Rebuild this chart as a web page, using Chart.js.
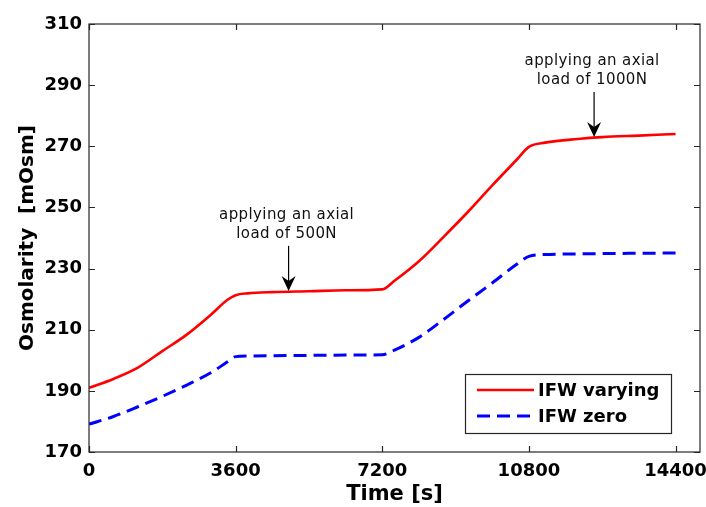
<!DOCTYPE html>
<html>
<head>
<meta charset="utf-8">
<script src="https://cdn.jsdelivr.net/npm/chart.js@4/dist/chart.umd.min.js"></script>
<style>
  html, body { margin: 0; padding: 0; background: #fff; }
  #wrap { width: 706px; height: 507px; position: relative; }
</style>
</head>
<body>
<div id="wrap"><canvas id="osmo-chart"></canvas></div>
<script>
"use strict";

// time in seconds
const timeSec = [0, 600, 1200, 1800, 2400, 3000, 3400, 3600, 3900, 4500, 5400, 6300, 7200,
  7500, 8100, 8700, 9300, 9900, 10500, 10800, 11200, 12000, 12600, 13500, 14400];
const ifwVarying = [191.0, 193.9, 197.6, 203.0, 208.4, 215.0, 219.8, 221.3, 221.9, 222.3, 222.6, 222.9, 223.2,
  226.0, 232.4, 240.3, 248.5, 257.2, 265.6, 269.8, 271.2, 272.4, 273.0, 273.5, 274.0];
const ifwZero = [179.1, 181.6, 184.8, 188.2, 191.9, 196.0, 199.5, 201.2, 201.4, 201.5, 201.6, 201.7, 201.8,
  203.3, 207.5, 213.3, 219.4, 225.3, 231.4, 234.0, 234.6, 234.8, 234.9, 235.0, 235.1];

const xTicks = [0, 3600, 7200, 10800, 14400];
const yTicks = [170, 190, 210, 230, 250, 270, 290, 310];

const notes = [
  { t: 4900, v: 222.7, lines: ['applying an axial', 'load of 500N'] },
  { t: 12400, v: 273.0, lines: ['applying an axial', 'load of 1000N'] }
];

const FRAME = '#262626';

// MATLAB-like box with inward ticks, arrows and an inside legend
const matlabPlugin = {
  id: 'matlab',
  afterDraw(chart) {
    const { ctx, chartArea: a, scales: { x, y } } = chart;
    ctx.save();
    ctx.strokeStyle = FRAME;
    ctx.lineWidth = 1.2;
    ctx.strokeRect(a.left, a.top, a.right - a.left, a.bottom - a.top);
    ctx.beginPath();
    xTicks.forEach(v => {
      const px = Math.round(x.getPixelForValue(v)) + 0.5;
      ctx.moveTo(px, a.bottom); ctx.lineTo(px, a.bottom - 6);
      ctx.moveTo(px, a.top); ctx.lineTo(px, a.top + 6);
    });
    yTicks.forEach(v => {
      const py = Math.round(y.getPixelForValue(v)) + 0.5;
      ctx.moveTo(a.left, py); ctx.lineTo(a.left + 6, py);
      ctx.moveTo(a.right, py); ctx.lineTo(a.right - 6, py);
    });
    ctx.stroke();

    // annotations
    ctx.font = '15px "DejaVu Sans"';
    ctx.textAlign = 'center';
    ctx.textBaseline = 'middle';
    ctx.letterSpacing = '0.4px';
    notes.forEach(n => {
      const px = x.getPixelForValue(n.t);
      const py = y.getPixelForValue(n.v);
      const top = py - 45;
      ctx.fillStyle = '#111';
      ctx.fillText(n.lines[0], px - 2, top - 31);
      ctx.fillText(n.lines[1], px - 2, top - 12);
      ctx.strokeStyle = '#000';
      ctx.lineWidth = 1.2;
      ctx.beginPath();
      ctx.moveTo(px, top); ctx.lineTo(px, py - 6);
      ctx.stroke();
      ctx.fillStyle = '#000';
      ctx.beginPath();
      ctx.moveTo(px, py);
      ctx.lineTo(px - 7, py - 15);
      ctx.lineTo(px, py - 10);
      ctx.lineTo(px + 7, py - 15);
      ctx.closePath();
      ctx.fill();
    });
    ctx.letterSpacing = '0px';

    // legend
    const lx = 465, ly = 374, lw = 206, lh = 59;
    ctx.fillStyle = '#fff';
    ctx.fillRect(lx, ly, lw, lh);
    ctx.strokeStyle = FRAME;
    ctx.lineWidth = 1.2;
    ctx.strokeRect(lx + 0.5, ly + 0.5, lw, lh);
    ctx.font = 'bold 18px "DejaVu Sans"';
    ctx.textAlign = 'left';
    chart.data.datasets.forEach((ds, i) => {
      const rowY = ly + 16 + i * 26;
      ctx.strokeStyle = ds.borderColor;
      ctx.lineWidth = ds.borderWidth;
      ctx.setLineDash(ds.borderDash || []);
      ctx.beginPath();
      ctx.moveTo(lx + 12, rowY); ctx.lineTo(lx + 69, rowY);
      ctx.stroke();
      ctx.setLineDash([]);
      ctx.fillStyle = '#000';
      ctx.fillText(ds.label, lx + 73, rowY + 1);
    });
    ctx.restore();
  }
};

const config = {
  type: 'line',
  data: {
    datasets: [
      {
        label: 'IFW varying',
        data: timeSec.map((t, i) => ({ x: t, y: ifwVarying[i] })),
        borderColor: '#ff0000',
        borderWidth: 2.6,
        pointRadius: 0,
        cubicInterpolationMode: 'monotone',
        fill: false
      },
      {
        label: 'IFW zero',
        data: timeSec.map((t, i) => ({ x: t, y: ifwZero[i] })),
        borderColor: '#0000ff',
        borderWidth: 3,
        borderDash: [13, 7],
        pointRadius: 0,
        cubicInterpolationMode: 'monotone',
        fill: false
      }
    ]
  },
  options: {
    responsive: true,
    maintainAspectRatio: false,
    animation: false,
    layout: { padding: { left: 0, right: 6, top: 24, bottom: 0 } },
    plugins: {
      legend: { display: false },
      tooltip: { enabled: false }
    },
    scales: {
      x: {
        type: 'linear',
        min: 0,
        max: 15000,
        afterBuildTicks(scale) { scale.ticks = xTicks.map(v => ({ value: v })); },
        afterFit(scale) {
          scale.height = 55;
          scale.paddingLeft = 0;
          scale.paddingRight = 0;
        },
        grid: { display: false, drawTicks: false },
        border: { display: false },
        ticks: {
          padding: 9,
          color: '#000',
          maxRotation: 0,
          font: { family: 'DejaVu Sans', size: 18, weight: 'bold' },
          callback: v => String(v)
        },
        title: {
          display: true,
          text: 'Time [s]',
          color: '#000',
          font: { family: 'DejaVu Sans', size: 21, weight: 'bold' },
          padding: { top: 0, bottom: 0 }
        }
      },
      y: {
        type: 'linear',
        min: 170,
        max: 310,
        afterBuildTicks(scale) { scale.ticks = yTicks.map(v => ({ value: v })); },
        afterFit(scale) {
          scale.width = 89;
          scale.paddingTop = 0;
          scale.paddingBottom = 0;
        },
        grid: { display: false, drawTicks: false },
        border: { display: false },
        ticks: {
          padding: 7,
          color: '#000',
          font: { family: 'DejaVu Sans', size: 18, weight: 'bold' },
          callback: v => String(v)
        },
        title: {
          display: true,
          text: 'Osmolarity  [mOsm]',
          color: '#000',
          font: { family: 'DejaVu Sans', size: 20, weight: 'bold' },
          padding: { top: 16, bottom: 0 }
        }
      }
    }
  },
  plugins: [matlabPlugin]
};

new Chart(document.getElementById('osmo-chart'), config);
</script>
</body>
</html>
